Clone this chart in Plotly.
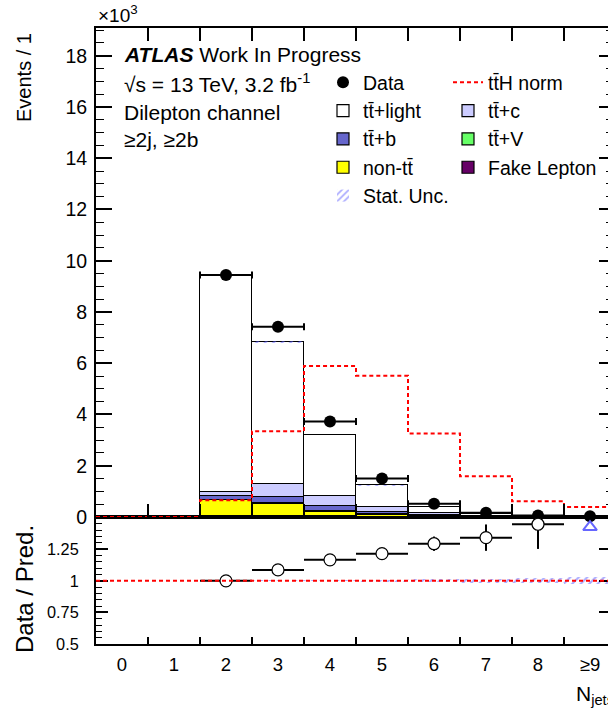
import numpy as np
import plotly.graph_objects as go

FONT = "Liberation Sans, Arial, Helvetica, sans-serif"

# ---------------- data (events in units of 10^3) ----------------
bins = [0, 1, 2, 3, 4, 5, 6, 7, 8, 9]
xlabels = ["0", "1", "2", "3", "4", "5", "6", "7", "8", "≥9"]
data = [0, 0, 9.44, 7.42, 3.73, 1.50, 0.52, 0.165, 0.055, 0.025]
fake = [0, 0, 0.04, 0.04, 0.02, 0.008, 0.003, 0.001, 0.0005, 0.0002]
nontt = [0, 0, 0.61, 0.48, 0.18, 0.08, 0.025, 0.008, 0.003, 0.001]
ttV = [0, 0, 0.01, 0.02, 0.02, 0.015, 0.008, 0.004, 0.002, 0.001]
ttb = [0, 0, 0.15, 0.24, 0.21, 0.105, 0.044, 0.017, 0.0065, 0.0028]
ttc = [0, 0, 0.17, 0.52, 0.39, 0.17, 0.07, 0.02, 0.008, 0.003]
ttlight = [0, 0, 8.46, 5.53, 2.38, 0.857, 0.252, 0.073, 0.018, 0.004]
tth_norm = [0, 0, 0.65, 3.35, 5.89, 5.51, 3.26, 1.59, 0.61, 0.39]
stat_rel = [0, 0, 0.004, 0.004, 0.005, 0.008, 0.012, 0.015, 0.02, 0.027]

# ---------------- derived ----------------
x = np.array(bins, dtype=float)
total = np.array(fake) + np.array(nontt) + np.array(ttV) + np.array(ttb) + np.array(ttc) + np.array(ttlight)
d = np.array(data)
has = d > 0
derr = np.sqrt(d * 1000.0) / 1000.0
ratio = np.where(has & (total > 0), d / np.where(total > 0, total, 1), np.nan)
rerr = np.where(has, ratio / np.sqrt(np.where(has, d * 1000.0, 1)), np.nan)
unc = np.array(stat_rel) * total
edges = list(np.arange(-0.5, 10.0, 1.0))

YMAX = 19.08
RMIN, RMAX = 0.5, 1.505
XR = [-0.5, 9.346]
SPLIT = 0.2062
HATCH = dict(shape="/", fgcolor="#5555ff", bgcolor="rgba(0,0,0,0)", size=6, solidity=0.35, fillmode="overlay")

fig = go.Figure()

stack = [
    ("Fake Lepton", fake, "#660066", "legend2", 4),
    ("non-tt\u0304", nontt, "#ffff00", "legend", 4),
    ("tt\u0304+V", ttV, "#66ff66", "legend2", 3),
    ("tt\u0304+b", ttb, "#6666cc", "legend", 3),
    ("tt\u0304+c", ttc, "#ccccff", "legend2", 2),
    ("tt\u0304+light", ttlight, "#ffffff", "legend", 2),
]
for name, vals, col, leg, rank in stack:
    fig.add_trace(go.Bar(x=bins, y=vals, width=1, name=name, legend=leg, legendrank=rank,
                         marker=dict(color=col, line=dict(color="black", width=1.2)),
                         xaxis="x", yaxis="y", hoverinfo="skip"))

# stat. unc. band on the total
fig.add_trace(go.Bar(x=bins, y=2 * unc, base=total - unc, width=1, name="Stat. Unc.",
                     legend="legend", legendrank=5,
                     marker=dict(color="rgba(0,0,0,0)", line=dict(width=0), pattern=HATCH),
                     xaxis="x", yaxis="y", hoverinfo="skip"))

# ttH normalised (step)
fig.add_trace(go.Scatter(x=edges, y=list(tth_norm) + [tth_norm[-1]], mode="lines",
                         line=dict(shape="hv", color="#ff0000", width=2, dash="4px,3px"),
                         name="tt\u0304H norm", legend="legend2", legendrank=1,
                         xaxis="x", yaxis="y", cliponaxis=False))

# data
fig.add_trace(go.Scatter(x=x[has], y=d[has], mode="markers", name="Data", legend="legend", legendrank=1,
                         marker=dict(color="black", size=12, symbol="circle"),
                         error_x=dict(type="constant", value=0.5, color="black", thickness=2, width=3.5),
                         error_y=dict(type="data", array=derr[has], color="black", thickness=2, width=0),
                         xaxis="x", yaxis="y", cliponaxis=False))

# ratio: stat band
fig.add_trace(go.Bar(x=bins, y=2 * np.array(stat_rel), base=1 - np.array(stat_rel), width=1,
                     showlegend=False,
                     marker=dict(color="rgba(0,0,0,0)", line=dict(width=0), pattern=HATCH),
                     xaxis="x2", yaxis="y2", hoverinfo="skip"))

inr = has & (ratio <= 1.5)
fig.add_trace(go.Scatter(x=x[inr], y=ratio[inr], mode="markers", showlegend=False,
                         marker=dict(color="white", size=12, symbol="circle", line=dict(color="black", width=1.2)),
                         error_x=dict(type="constant", value=0.5, color="black", thickness=2, width=0),
                         error_y=dict(type="data", array=rerr[inr], color="black", thickness=2, width=0),
                         xaxis="x2", yaxis="y2"))
off = has & (ratio > 1.5)
fig.add_trace(go.Scatter(x=x[off], y=[RMAX - 0.08] * int(off.sum()), mode="markers", showlegend=False,
                         marker=dict(color="#6666ff", size=12, symbol="triangle-up-open", line=dict(width=2)),
                         xaxis="x2", yaxis="y2", cliponaxis=False))

# helper traces for extra axes
fig.add_trace(go.Scatter(x=[None], y=[None], xaxis="x3", yaxis="y2", showlegend=False))
fig.add_trace(go.Scatter(x=[None], y=[None], xaxis="x", yaxis="y3", showlegend=False))
fig.add_trace(go.Scatter(x=[None], y=[None], xaxis="x2", yaxis="y4", showlegend=False))

fig.add_shape(type="line", xref="x2 domain", yref="y2", x0=0, x1=1, y0=1, y1=1,
              line=dict(color="#ff0000", width=2, dash="4px,3px"))

inner_edges = [e for e in edges if XR[0] < e < XR[1]]

fig.update_layout(
    width=608, height=708,
    margin=dict(l=96, r=0, t=28, b=64),
    paper_bgcolor="white", plot_bgcolor="white",
    font=dict(family=FONT, color="black"),
    barmode="stack", bargap=0,
    xaxis=dict(domain=[0, 1], anchor="y", range=XR, showgrid=False, zeroline=False,
               showline=True, linecolor="black", linewidth=2, mirror="ticks",
               ticks="inside", ticklen=13, tickwidth=1.5, tickcolor="black",
               tickmode="array", tickvals=inner_edges, showticklabels=False),
    yaxis=dict(domain=[SPLIT, 1], anchor="x", range=[0, YMAX], showgrid=False,
               zeroline=True, zerolinecolor="black", zerolinewidth=3,
               showline=True, linecolor="black", linewidth=2,
               ticks="inside", ticklen=16, tickwidth=1.5, tickcolor="black",
               dtick=2, tick0=0, tickfont=dict(size=19.5), ticklabelstandoff=3,
               minor=dict(ticks="inside", ticklen=8, dtick=0.5, tick0=0, tickwidth=1.2, tickcolor="black", showgrid=False)),
    yaxis3=dict(overlaying="y", side="right", anchor="x", range=[0, YMAX], showgrid=False, zeroline=False,
                showline=False, ticks="inside", ticklen=9, tickwidth=1.5, tickcolor="black",
                dtick=2, tick0=0, showticklabels=False,
                minor=dict(ticks="inside", ticklen=2, dtick=0.5, tick0=0, tickwidth=1.2, tickcolor="black", showgrid=False)),
    xaxis2=dict(domain=[0, 1], anchor="y2", range=XR, showgrid=False, zeroline=False,
                showline=True, linecolor="black", linewidth=2,
                ticks="inside", ticklen=7, tickwidth=1.5, tickcolor="black",
                tickmode="array", tickvals=inner_edges, showticklabels=False),
    xaxis3=dict(overlaying="x2", anchor="y2", side="bottom", range=XR, showgrid=False, zeroline=False,
                showline=False, ticks="", tickmode="array", tickvals=bins, ticktext=xlabels,
                tickfont=dict(size=18.5), ticklabelstandoff=7),
    yaxis2=dict(domain=[0, SPLIT], anchor="x2", range=[RMIN, RMAX], showgrid=False, zeroline=False,
                showline=True, linecolor="black", linewidth=2,
                ticks="inside", ticklen=12, tickwidth=1.5, tickcolor="black",
                tickmode="array", tickvals=[0.5, 0.75, 1.0, 1.25], ticktext=["0.5", "0.75", "1", "1.25"],
                tickfont=dict(size=16.3), ticklabelstandoff=12,
                minor=dict(ticks="inside", ticklen=6, tickmode="linear", tick0=0.5, dtick=0.05,
                           tickwidth=1.2, tickcolor="black", showgrid=False)),
    yaxis4=dict(overlaying="y2", side="right", anchor="x2", range=[RMIN, RMAX], showgrid=False, zeroline=False,
                showline=False, ticks="inside", ticklen=9, tickwidth=1.5, tickcolor="black",
                tickmode="array", tickvals=[0.5, 0.75, 1.0, 1.25, 1.5], showticklabels=False),
    legend=dict(x=(323 - 96) / 512, y=(644 - 63) / 616, xanchor="left", yanchor="top",
                font=dict(size=19.5, family=FONT), bgcolor="rgba(0,0,0,0)", traceorder="normal",
                borderwidth=0),
    legend2=dict(x=(448 - 96) / 512, y=(644 - 63) / 616, xanchor="left", yanchor="top",
                 font=dict(size=19.5, family=FONT), bgcolor="rgba(0,0,0,0)", traceorder="normal",
                 borderwidth=0),
    showlegend=True,
)

def px_x(p):
    return (p - 96) / 512.0

def px_y(p):
    return (644 - p) / 616.0

ann = [
    dict(text="<b><i>ATLAS</i></b> Work In Progress", x=px_x(122), y=px_y(55), size=21),
    dict(text="√s = 13 TeV, 3.2 fb<sup>-1</sup>", x=px_x(122), y=px_y(83), size=21),
    dict(text="Dilepton channel", x=px_x(122), y=px_y(112), size=21),
    dict(text="≥2j, ≥2b", x=px_x(122), y=px_y(140), size=21),
]
for a in ann:
    fig.add_annotation(text=a["text"], xref="paper", yref="paper", x=a["x"], y=a["y"],
                       xanchor="left", yanchor="middle", showarrow=False,
                       font=dict(size=a["size"], family=FONT, color="black"))

fig.add_annotation(text="×10<sup>3</sup>", xref="paper", yref="paper", x=px_x(96), y=px_y(28),
                   xanchor="left", yanchor="bottom", showarrow=False,
                   font=dict(size=19, family=FONT, color="black"))
fig.add_annotation(text="Events / 1", xref="paper", yref="paper", x=px_x(24), y=px_y(78),
                   xanchor="center", yanchor="middle", textangle=-90, showarrow=False,
                   font=dict(size=20, family=FONT, color="black"))
fig.add_annotation(text="Data / Pred.", xref="paper", yref="paper", x=px_x(24), y=px_y(589),
                   xanchor="center", yanchor="middle", textangle=-90, showarrow=False,
                   font=dict(size=24, family=FONT, color="black"))
fig.add_annotation(text="N<sub>jets</sub>", xref="paper", yref="paper", x=px_x(616), y=px_y(680),
                   xanchor="right", yanchor="top", showarrow=False,
                   font=dict(size=21, family=FONT, color="black"))

fig.write_html("out.html")
